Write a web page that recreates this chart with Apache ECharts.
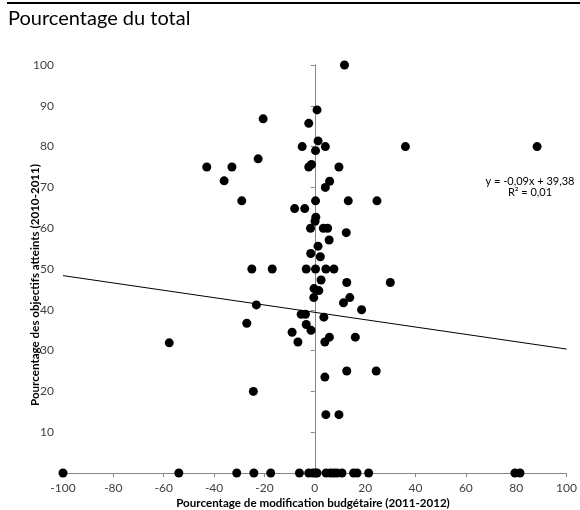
<!DOCTYPE html>
<html><head><meta charset="utf-8">
<script src="https://cdn.jsdelivr.net/npm/echarts@6/dist/echarts.min.js"></script>
<style>html,body{margin:0;padding:0;background:#fff}#c{width:580px;height:510px}</style>
</head><body><div id="c"></div>
<script>
const titleText = "Pourcentage du total";
const xAxisName = "Pourcentage de modification budgétaire (2011-2012)";
const yAxisName = "Pourcentage des objectifs atteints (2010-2011)";
const eqLine1 = "y = -0,09x + 39,38";
const eqLine2 = "R² = 0,01";
const trendSlope = -0.09;
const trendIntercept = 39.38;
const trendRangeX = [-100, 100];

const xValues = [11.8,0.9,-20.5,-2.4,1.3,-5,4.2,0.3,-22.5,-2.4,-1.3,9.6,5.9,4.2,0.3,13.3,24.7,-8,-4,0.4,0.1,-1.7,3.4,5.1,12.5,5.7,1.3,-1.6,2.2,-25,-16.9,-3.4,0.3,4.4,7.6,2.5,12.7,30,-0.3,1.6,-0.4,13.9,11.4,-23.2,-27,-5.4,-3.7,3.6,18.6,-9,-3.4,-1.5,-6.7,4,5.8,16.1,4,12.7,24.4,-24.4,4.4,9.6,-42.9,-32.9,-36,-29,-57.8,88.3,36,
 -100,-54,-31,-24.2,-17.5,-6.1,-2.4,-0.8,0.3,0.9,4.5,6.2,7.5,8.8,10.8,15.4,16.8,21.4,79.5,81.5];
const yValues = [100,89,86.8,85.7,81.4,80,80,79,77,75,75.6,75,71.5,70,66.7,66.7,66.7,64.8,64.8,62.7,61.7,60,60,60,58.9,57.1,55.6,53.8,53,50,50,50,50,50,50,47.3,46.7,46.7,45.2,44.7,43,43,41.7,41.2,36.7,38.9,38.9,38.2,40,34.5,36.4,35,32.1,32.1,33.3,33.3,23.5,25,25,20,14.3,14.3,75,75,71.6,66.7,31.9,80,80,
 0,0,0,0,0,0,0,0,0,0,0,0,0,0,0,0,0,0,0,0];

const pts = xValues.map((x,i)=>[x,yValues[i]]);
const trend = trendRangeX.map(x=>[x, trendSlope*x + trendIntercept]);
const FONT = "Lato, 'Open Sans', sans-serif";
const chart = echarts.init(document.getElementById('c'));
chart.setOption({
  animation:false,
  grid:{left:63,right:12,top:65,bottom:37},
  xAxis:{type:'value',min:-100,max:100,interval:20,
    axisLine:{onZero:false,lineStyle:{color:'#868686'}},
    axisTick:{show:true,length:4,lineStyle:{color:'#868686'}},
    axisLabel:{color:'#404040',fontSize:12,fontFamily:FONT,margin:9},
    splitLine:{show:false}},
  yAxis:{type:'value',min:0,max:100,interval:10,
    axisLine:{show:true,onZero:true,lineStyle:{color:'#868686'}},
    axisTick:{show:true,length:4,lineStyle:{color:'#868686'}},
    axisLabel:{color:'#404040',fontSize:12,fontFamily:FONT,margin:9,
      formatter:v=>v===0?'':String(v)},
    splitLine:{show:false}},
  series:[
    {type:'line',data:trend,symbol:'none',lineStyle:{color:'#000',width:1},silent:true,z:1},
    {type:'scatter',data:pts,symbol:'circle',symbolSize:9,itemStyle:{color:'#000',opacity:1},clip:false,z:3}
  ],
  graphic:[
    {type:'rect',shape:{x:7,y:2,width:573,height:2},style:{fill:'#000'}},
    {type:'text',left:8,top:9,style:{text:titleText,fontSize:20,fontFamily:FONT,fill:'#000'}},
    {type:'text',x:313,y:503,style:{text:xAxisName,fontSize:11.6,fontWeight:'bold',fontFamily:FONT,fill:'#000',align:'center',verticalAlign:'middle'}},
    {type:'text',x:35,y:285,rotation:Math.PI/2,style:{text:yAxisName,fontSize:11.6,fontWeight:'bold',fontFamily:FONT,fill:'#000',align:'center',verticalAlign:'middle'}},
    {type:'text',x:530,y:181,style:{text:eqLine1,fontSize:11,fontFamily:FONT,fill:'#000',align:'center',verticalAlign:'middle'}},
    {type:'text',x:530,y:192,style:{text:eqLine2,fontSize:11,fontFamily:FONT,fill:'#000',align:'center',verticalAlign:'middle'}}
  ]
});
</script></body></html>
